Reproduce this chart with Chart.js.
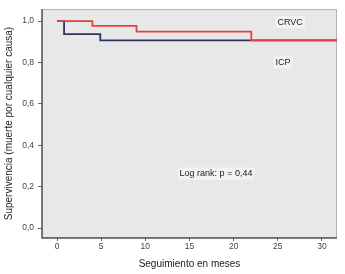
<!DOCTYPE html>
<html>
<head>
<meta charset="utf-8">
<script src="https://cdn.jsdelivr.net/npm/chart.js@4"></script>
<style>
  html, body { margin: 0; padding: 0; background: #fff; }
  #wrap { width: 345px; height: 274px; }
</style>
</head>
<body>
<div id="wrap"><canvas id="km"></canvas></div>
<script>
// Kaplan-Meier curves
const crvcTimes = [0, 4, 9, 22, 32];
const crvcSurv = [1.0, 0.977, 0.949, 0.907, 0.907];
const icpTimes = [0, 0.8, 4.9, 32];
const icpSurv = [1.0, 0.9375, 0.907, 0.907];

const xTicks = [0, 5, 10, 15, 20, 25, 30];
const yTicks = [0, 0.2, 0.4, 0.6, 0.8, 1.0];

const notes = [
    { text: 'CRVC', x: 26.4, y: 0.995 },
    { text: 'ICP', x: 25.6, y: 0.80 },
    { text: 'Log rank: p = 0,44', x: 18, y: 0.264 }
];

function toPoints(xs, ys) {
    return xs.map((x, i) => ({ x: x, y: ys[i] }));
}

const plotBg = {
    id: 'plotBg',
    beforeDatasetsDraw(chart) {
        const a = chart.chartArea, c = chart.ctx;
        c.save();
        c.fillStyle = '#e8e8e8';
        c.fillRect(a.left, a.top, a.right - a.left, a.bottom - a.top);
        c.strokeStyle = '#b5b5b5';
        c.lineWidth = 1;
        c.strokeRect(a.left + 0.5, a.top + 0.5, a.right - a.left - 1, a.bottom - a.top - 1);
        c.restore();
    },
    afterDatasetsDraw(chart) {
        const a = chart.chartArea, c = chart.ctx;
        const xs = chart.scales.x, ys = chart.scales.y;
        c.save();
        c.strokeStyle = '#555';
        c.lineWidth = 1.5;
        c.beginPath();
        c.moveTo(a.left, a.top);
        c.lineTo(a.left, a.bottom);
        c.lineTo(a.right, a.bottom);
        c.stroke();
        c.font = '9px "Liberation Sans", Arial, sans-serif';
        c.textAlign = 'center';
        c.textBaseline = 'middle';
        notes.forEach(n => {
            const px = xs.getPixelForValue(n.x), py = ys.getPixelForValue(n.y);
            const w = c.measureText(n.text).width + 4;
            c.fillStyle = '#f3f3f3';
            c.fillRect(px - w / 2, py - 6, w, 12);
            c.fillStyle = '#222';
            c.fillText(n.text, px, py);
        });
        c.restore();
    }
};

new Chart(document.getElementById('km'), {
    type: 'line',
    data: {
        datasets: [{
            label: 'CRVC',
            data: toPoints(crvcTimes, crvcSurv),
            borderColor: '#e8403c',
            borderWidth: 1.8,
            stepped: true,
            pointRadius: 0,
            fill: false
        }, {
            label: 'ICP',
            data: toPoints(icpTimes, icpSurv),
            borderColor: '#2c3462',
            borderWidth: 1.8,
            stepped: true,
            pointRadius: 0,
            fill: false
        }]
    },
    options: {
        responsive: true,
        maintainAspectRatio: false,
        animation: false,
        layout: { padding: { top: 8, right: 8, left: 0, bottom: 0 } },
        plugins: {
            legend: { display: false },
            tooltip: { enabled: false }
        },
        scales: {
            x: {
                type: 'linear',
                min: -1.7,
                max: 31.7,
                afterBuildTicks: s => { s.ticks = xTicks.map(v => ({ value: v })); },
                afterFit: s => { s.height = 36; },
                grid: { drawOnChartArea: false, tickLength: 3, color: '#666' },
                border: { display: false },
                ticks: {
                    color: '#444',
                    padding: 1,
                    maxRotation: 0,
                    font: { size: 8.5, family: '"Liberation Sans", Arial, sans-serif' }
                },
                title: {
                    display: true,
                    text: 'Seguimiento en meses',
                    color: '#222',
                    padding: { top: 0, bottom: 4 },
                    font: { size: 10, family: '"Liberation Sans", Arial, sans-serif' }
                }
            },
            y: {
                min: -0.048,
                max: 1.058,
                afterBuildTicks: s => { s.ticks = yTicks.map(v => ({ value: v })); },
                afterFit: s => { s.width = 42; },
                grid: { drawOnChartArea: false, tickLength: 4, color: '#666' },
                border: { display: false },
                ticks: {
                    color: '#444',
                    padding: 4,
                    font: { size: 8.5, family: '"Liberation Sans", Arial, sans-serif' },
                    callback: v => v.toFixed(1).replace('.', ',')
                },
                title: {
                    display: true,
                    text: 'Supervivencia (muerte por cualquier causa)',
                    color: '#222',
                    padding: { top: 3, bottom: 0 },
                    font: { size: 10, family: '"Liberation Sans", Arial, sans-serif' }
                }
            }
        }
    },
    plugins: [plotBg]
});
</script>
</body>
</html>
